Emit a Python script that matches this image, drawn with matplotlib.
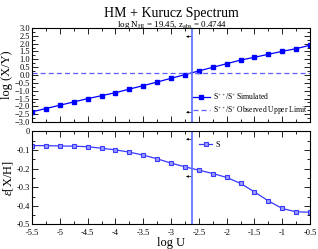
import numpy as np
import matplotlib
matplotlib.use('Agg')
import matplotlib.pyplot as plt
from matplotlib.ticker import MultipleLocator

plt.rcParams['font.family'] = ['Liberation Serif', 'DejaVu Serif']
plt.rcParams['mathtext.fontset'] = 'custom'
plt.rcParams['mathtext.rm'] = 'Liberation Serif'
plt.rcParams['mathtext.it'] = 'Liberation Serif:italic'

# data
log_u = [-5.5, -5.25, -5.0, -4.75, -4.5, -4.25, -4.0, -3.75, -3.5, -3.25, -3.0,
         -2.75, -2.5, -2.25, -2.0, -1.75, -1.5, -1.25, -1.0, -0.75, -0.5]
ratio_sim = [-2.35, -2.14, -1.93, -1.72, -1.51, -1.32, -1.13, -0.90, -0.68, -0.45, -0.21,
             0.02, 0.26, 0.49, 0.72, 0.95, 1.13, 1.32, 1.51, 1.68, 1.90]
ratio_obs_limit = 0.12
eps_s = [-0.076, -0.076, -0.078, -0.079, -0.082, -0.090, -0.099, -0.111, -0.127, -0.147, -0.170,
         -0.190, -0.208, -0.226, -0.247, -0.279, -0.325, -0.373, -0.414, -0.432, -0.434]
logu_solution = -2.63
top_arrows_y = [2.45, -2.38]
bot_arrows_y = [-0.042, -0.242]

fig = plt.figure(figsize=(3.18, 2.49), dpi=100)
ax1 = fig.add_axes([0.1006, 0.51, 0.8744, 0.3776])
ax2 = fig.add_axes([0.1006, 0.0984, 0.8744, 0.3736])

blue = '#0000ff'
vcol = '#5a6cff'

ax1.plot(log_u, ratio_sim, '-', color=blue, lw=0.9, marker='s', ms=3,
         label=r'S$^{++}$/S$^{+}$ Simulated')
ax1.axhline(ratio_obs_limit, color='#5c5cff', lw=0.9, ls=(0, (4, 2.5)),
            label=r'S$^{++}$/S$^{+}$ Observed Upper Limit')
ax1.axvline(logu_solution, color=vcol, lw=1.2)
for y in top_arrows_y:
    ax1.annotate('', xy=(logu_solution - 0.1, y), xytext=(logu_solution - 0.01, y),
                 arrowprops=dict(arrowstyle='-|>', lw=0.5, color='k',
                                 mutation_scale=3, shrinkA=0, shrinkB=0))
ax1.set_xlim(-5.5, -0.5)
ax1.set_ylim(-3, 3)
ax1.yaxis.set_major_locator(MultipleLocator(0.5))
ax1.yaxis.set_minor_locator(MultipleLocator(0.25))
ax1.xaxis.set_major_locator(MultipleLocator(0.5))
ax1.xaxis.set_minor_locator(MultipleLocator(0.25))
ax1.set_xticklabels([])
ax1.set_ylabel('log (X/Y)', fontsize=9, labelpad=1)
ax1.legend(loc='lower right', bbox_to_anchor=(1.01, 0.0), frameon=False, fontsize=5.5,
           handlelength=2.2, handletextpad=0.4, labelspacing=0.35, borderpad=0.2)

ax2.plot(log_u, eps_s, '-', color='#3a3aff', lw=0.9, marker='s', ms=3,
         mfc='#9a9aff', mec='#3a3aff', mew=0.8, label='S')
ax2.axvline(logu_solution, color=vcol, lw=1.2)
for y in bot_arrows_y:
    ax2.annotate('', xy=(logu_solution - 0.1, y), xytext=(logu_solution - 0.01, y),
                 arrowprops=dict(arrowstyle='-|>', lw=0.5, color='k',
                                 mutation_scale=3, shrinkA=0, shrinkB=0))
ax2.set_xlim(-5.5, -0.5)
ax2.set_ylim(-0.5, 0)
ax2.yaxis.set_major_locator(MultipleLocator(0.1))
ax2.yaxis.set_minor_locator(MultipleLocator(0.05))
ax2.xaxis.set_major_locator(MultipleLocator(0.5))
ax2.xaxis.set_minor_locator(MultipleLocator(0.25))
ax2.set_xticks(np.arange(-5.5, -0.49, 0.5))
ax2.set_xticklabels(['-5.5', '-5', '-4.5', '-4', '-3.5', '-3', '-2.5', '-2', '-1.5', '-1', '-0.5'])
ax2.set_yticks([0, -0.1, -0.2, -0.3, -0.4, -0.5])
ax2.set_yticklabels(['0', '-0.1', '-0.2', '-0.3', '-0.4', '-0.5'])
ax2.set_ylabel(r'$\epsilon$[X/H]', fontsize=9, labelpad=1)
ax2.set_xlabel('log U', fontsize=9, labelpad=0)
ax2.legend(loc='upper left', bbox_to_anchor=(0.58, 0.96), frameon=False, fontsize=6,
           handlelength=1.6, handletextpad=0.4, borderpad=0.2)

for ax in (ax1, ax2):
    ax.tick_params(which='both', direction='in', top=True, right=True,
                   labelsize=6, pad=1.5, width=0.6)
    ax.tick_params(which='major', length=4)
    ax.tick_params(which='minor', length=2)
    for s in ax.spines.values():
        s.set_linewidth(0.8)
ax2.tick_params(axis='x', which='both', pad=3)

fig.text(0.54, 0.945, 'HM + Kurucz Spectrum', ha='center', va='center', fontsize=10)
fig.text(0.54, 0.9, r'log N$_{\rm HI}$ = 19.45, z$_{\rm abs}$ = 0.4744',
         ha='center', va='center', fontsize=6.5)

fig.savefig('out.png', dpi=100)
